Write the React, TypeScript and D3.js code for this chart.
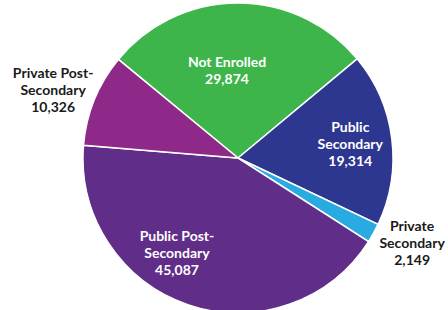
import React, { useEffect, useRef } from "react";
import * as d3 from "d3";

// slices, clockwise starting at upper left
const categories = ["Not Enrolled", "Public Secondary", "Private Secondary", "Public Post-Secondary", "Private Post-Secondary"];
const values = [29874, 19314, 2149, 45087, 10326];
const labelLines = [
  ["Not Enrolled"],
  ["Public", "Secondary"],
  ["Private", "Secondary"],
  ["Public Post-", "Secondary"],
  ["Private Post-", "Secondary"],
];
const colors = ["#3db54a", "#2e3790", "#29abe2", "#602d89", "#8e2889"];

// label placement: radius as fraction of pie radius, plus angle nudge in degrees
const labelRadius = [0.57, 0.73, 1.25, 0.73, 1.27];
const labelAngleShift = [-7, 0, -3, 14, -2];
const labelInside = [true, true, false, true, false];

const W = 448;
const H = 310;

const App = () => {
  const ref = useRef<SVGSVGElement>(null);

  useEffect(() => {
    const svg = d3.select(ref.current);
    svg.selectAll("*").remove();

    const cx = 238;
    const cy = 158;
    const r = 155;

    const data = values.map((v, i) => ({ v, i }));
    const pie = d3
      .pie<any>()
      .sort(null)
      .value((d) => d.v)
      .startAngle((-50.5 * Math.PI) / 180)
      .endAngle(((360 - 50.5) * Math.PI) / 180);

    const arc = d3.arc<any>().innerRadius(0).outerRadius(r);
    const g = svg.append("g").attr("transform", `translate(${cx},${cy})`);
    const arcs = pie(data);

    g.selectAll("path")
      .data(arcs)
      .enter()
      .append("path")
      .attr("d", arc)
      .attr("fill", (d) => colors[d.data.i])
      .attr("stroke", "#fff")
      .attr("stroke-width", 1.5);

    const fmt = d3.format(",");
    arcs.forEach((d) => {
      const i = d.data.i;
      const mid = (d.startAngle + d.endAngle) / 2 + (labelAngleShift[i] * Math.PI) / 180;
      const lr = r * labelRadius[i];
      const x = Math.sin(mid) * lr;
      const y = -Math.cos(mid) * lr;
      const lines = [...labelLines[i], fmt(values[i])];
      const lh = 17;
      const t = g
        .append("text")
        .attr("text-anchor", "middle")
        .attr("font-family", "Lato, 'DejaVu Sans', sans-serif")
        .attr("font-weight", 700)
        .attr("font-size", 14)
        .attr("fill", labelInside[i] ? "#fff" : "#1a1a1a");
      lines.forEach((s, k) => {
        t.append("tspan")
          .attr("x", x)
          .attr("y", y + (k - (lines.length - 1) / 2) * lh)
          .attr("dy", "0.35em")
          .text(s);
      });
    });
  }, []);

  return (
    <svg
      ref={ref}
      width={W}
      height={H}
      style={{ position: "absolute", left: 0, top: 0, background: "#fff" }}
    />
  );
};

export default App;
